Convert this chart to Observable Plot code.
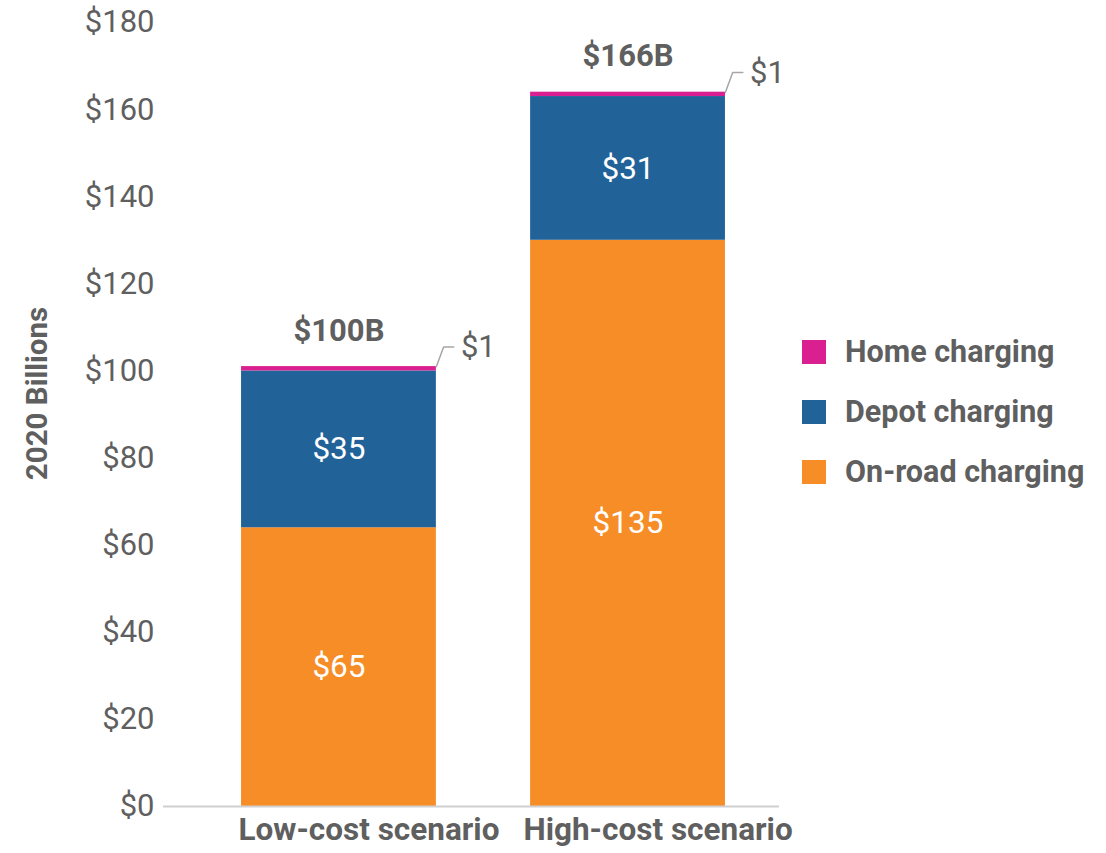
<!DOCTYPE html>
<html>
<head>
<meta charset="utf-8">
<script src="https://cdn.jsdelivr.net/npm/d3@7"></script>
<script src="https://cdn.jsdelivr.net/npm/@observablehq/plot@0.6"></script>
<style>
  html, body { margin: 0; padding: 0; background: #fff; }
  #wrap { position: relative; width: 1106px; height: 853px; font-family: Roboto, sans-serif; }
  #legend { position: absolute; left: 802px; top: 322px; }
  .row { display: flex; align-items: center; height: 60px; }
  .sw { width: 24px; height: 24px; margin-right: 19px; }
  .lab { font-size: 30.5px; font-weight: bold; color: #5f5f5f; line-height: 34px; }
</style>
</head>
<body>
<div id="wrap"><div id="legend"></div></div>
<script>
// ---- data ----
const scenarios = ["Low-cost scenario", "High-cost scenario"];
const seriesNames = ["On-road charging", "Depot charging", "Home charging"];
const seriesColors = ["#F68D27", "#216399", "#DA2090"];
const onRoad = [64, 130];
const depot = [36, 33];
const home = [1, 1];
const onRoadLabels = ["$65", "$135"];
const depotLabels = ["$35", "$31"];
const homeLabels = ["$1", "$1"];
const totalLabels = ["$100B", "$166B"];
const yTicks = [0, 20, 40, 60, 80, 100, 120, 140, 160, 180];

// ---- build table ----
const seriesValues = [onRoad, depot, home];
const seriesLabels = [onRoadLabels, depotLabels, homeLabels];
const rows = [];
const totals = [];
scenarios.forEach((s, i) => {
  let acc = 0;
  seriesValues.forEach((vals, k) => {
    rows.push({i, scenario: s, series: seriesNames[k], y1: acc, y2: acc + vals[i], label: seriesLabels[k][i]});
    acc += vals[i];
  });
  totals.push({i, total: acc, label: totalLabels[i], small: homeLabels[i]});
});

const hw = 0.337; // half bar width in index units
// leader lines for the small home-charging callouts
const leaders = [];
totals.forEach(t => {
  leaders.push({z: t.i, x: t.i + hw, y: t.total});
  leaders.push({z: t.i, x: t.i + hw + 0.025, y: t.total + 4.5});
  leaders.push({z: t.i, x: t.i + hw + 0.06, y: t.total + 4.5});
});

const gray = "#5f5f5f";

const chart = Plot.plot({
  width: 1106,
  height: 853,
  marginLeft: 163,
  marginRight: 327,
  marginTop: 22,
  marginBottom: 47,
  style: {fontFamily: "Roboto, sans-serif", fontSize: "31px", color: gray, background: "white"},
  x: {domain: [-0.607, 1.524]},
  y: {domain: [0, 180]},
  marks: [
    Plot.rectY(rows, {
      x1: d => d.i - hw, x2: d => d.i + hw, y1: "y1", y2: "y2",
      fill: d => seriesColors[seriesNames.indexOf(d.series)]
    }),
    Plot.ruleY([0], {stroke: "#d0d0d0", strokeWidth: 2}),
    Plot.axisY({ticks: yTicks, tickSize: 0, tickPadding: 9, tickFormat: d => "$" + d, fontSize: 31, label: null}),
    Plot.axisX({ticks: [0, 1], tickSize: 0, tickPadding: 11, dx: 30, tickFormat: i => scenarios[i], fontSize: 31.5, fontWeight: "bold", label: null}),
    Plot.text(rows.filter(d => d.series !== "Home charging"), {
      x: "i", y: d => (d.y1 + d.y2) / 2, text: "label", fill: "white", fontSize: 31.5
    }),
    Plot.text(totals, {x: "i", y: "total", text: "label", dy: -36, fontSize: 31, fontWeight: "bold", fill: gray}),
    Plot.line(leaders, {x: "x", y: "y", z: "z", stroke: "#a6a6a6", strokeWidth: 1.5}),
    Plot.text(totals, {x: d => d.i + hw + 0.085, y: d => d.total + 4.5, text: "small", textAnchor: "start", fontSize: 31, fill: gray}),
    Plot.text(["2020 Billions"], {text: d => d, frameAnchor: "left", textAnchor: "middle", rotate: -90, dx: -126, dy: -21, fontSize: 29.5, fontWeight: "bold", fill: gray})
  ]
});
document.getElementById("wrap").prepend(chart);

// ---- legend ----
const legend = document.getElementById("legend");
[2, 1, 0].forEach(k => {
  const row = document.createElement("div");
  row.className = "row";
  const sw = document.createElement("div");
  sw.className = "sw";
  sw.style.background = seriesColors[k];
  const lab = document.createElement("div");
  lab.className = "lab";
  lab.textContent = seriesNames[k];
  row.append(sw, lab);
  legend.append(row);
});
</script>
</body>
</html>
